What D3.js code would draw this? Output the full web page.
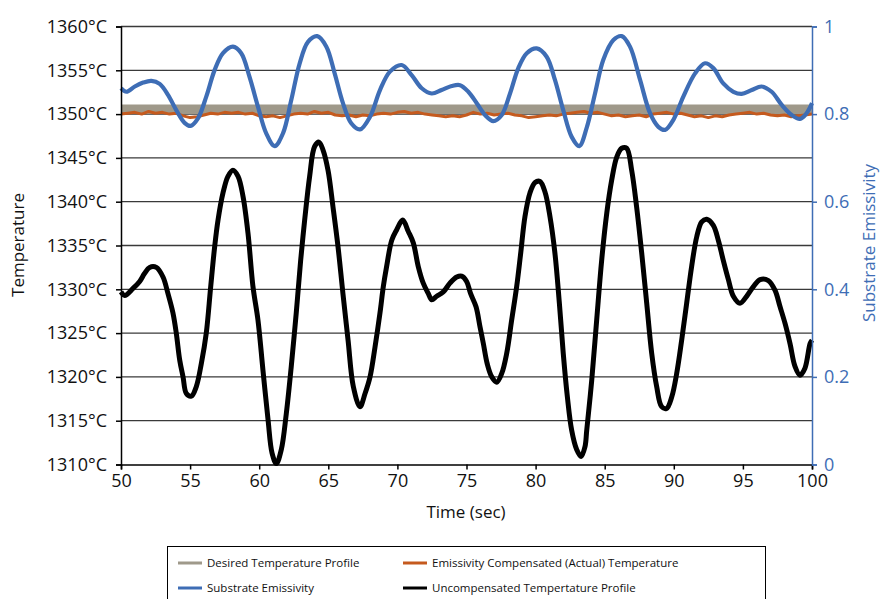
<!DOCTYPE html>
<html>
<head>
<meta charset="utf-8">
<script src="https://cdn.jsdelivr.net/npm/d3@7"></script>
<style>
  body { margin: 0; background: #fff; }
  svg { font-family: "Open Sans", "Noto Sans", sans-serif; }
  .grid line { stroke: #3a3a3a; stroke-width: 1.3; }
</style>
</head>
<body>
<svg width="881" height="599"></svg>
<script>
// axis ticks
const tempTicks = [1310, 1315, 1320, 1325, 1330, 1335, 1340, 1345, 1350, 1355, 1360];
const emisTicks = [0, 0.2, 0.4, 0.6, 0.8, 1];
const timeTicks = [50, 55, 60, 65, 70, 75, 80, 85, 90, 95, 100];

// desired temperature profile (flat setpoint band)
const desiredTime = [50, 100];
const desiredTemp = [1350.55, 1350.55];

// uncompensated temperature (black)
const uncompTime = [50.0, 50.27, 50.87, 51.35, 51.7, 52.07, 52.56, 53.04, 53.4, 53.76, 54.0, 54.25, 54.49, 54.73, 55.09, 55.45, 55.81, 56.17, 56.49, 56.78,
  57.02, 57.38, 57.74, 58.1, 58.47, 58.83, 59.19, 59.55, 59.91, 60.27, 60.64, 60.93, 61.24, 61.6, 61.96, 62.32, 62.68, 63.0, 63.29, 63.65,
  64.01, 64.33, 64.62, 64.98, 65.34, 65.7, 66.06, 66.43, 66.81, 67.29, 67.66, 68.02, 68.38, 68.74, 68.98, 69.22, 69.59, 69.95, 70.38, 70.79,
  71.15, 71.51, 71.87, 72.24, 72.48, 72.84, 73.32, 73.8, 74.29, 74.65, 75.01, 75.3, 75.69, 75.98, 76.22, 76.5, 76.83, 77.19, 77.55, 77.91,
  78.27, 78.63, 78.92, 79.23, 79.59, 79.96, 80.32, 80.68, 81.04, 81.4, 81.72, 82.0, 82.3, 82.61, 82.97, 83.29, 83.57, 83.7, 84.06, 84.42,
  84.78, 85.15, 85.51, 85.87, 86.23, 86.59, 86.95, 87.31, 87.68, 88.04, 88.4, 88.76, 89.12, 89.48, 89.85, 90.21, 90.57, 90.93, 91.29, 91.66,
  92.02, 92.38, 92.86, 93.22, 93.58, 93.95, 94.31, 94.79, 95.27, 95.76, 96.24, 96.84, 97.32, 97.69, 98.05, 98.41, 98.77, 99.13, 99.49, 99.86, 100];
const uncompTemp = [1329.7, 1329.3, 1330.1, 1330.9, 1331.8, 1332.5, 1332.5, 1331.4, 1329.5, 1327.3, 1325.0, 1321.9, 1320.0, 1318.1, 1317.8, 1318.9, 1321.5, 1325.0, 1330.3, 1334.9,
  1337.9, 1341.0, 1342.9, 1343.6, 1342.9, 1340.6, 1336.4, 1330.3, 1326.5, 1320.8, 1315.1, 1311.3, 1310.1, 1311.7, 1315.8, 1321.2, 1327.3, 1333.3, 1337.9, 1342.9,
  1346.3, 1346.8, 1345.9, 1343.6, 1339.4, 1334.9, 1329.5, 1324.2, 1318.9, 1316.6, 1318.1, 1320.0, 1323.4, 1327.3, 1330.3, 1332.6, 1335.6, 1336.8, 1337.9, 1336.6,
  1335.3, 1332.6, 1330.7, 1329.5, 1328.8, 1329.2, 1329.7, 1330.7, 1331.4, 1331.5, 1330.9, 1329.5, 1328.0, 1325.7, 1323.8, 1321.5, 1320.0, 1319.4, 1320.4, 1322.7,
  1326.5, 1330.3, 1334.1, 1338.3, 1341.0, 1342.2, 1342.3, 1341.1, 1338.3, 1334.1, 1328.4, 1322.7, 1317.7, 1313.9, 1311.7, 1310.9, 1312.0, 1313.9, 1319.6, 1326.5,
  1333.3, 1338.7, 1342.5, 1345.1, 1346.1, 1346.1, 1343.6, 1339.4, 1334.1, 1328.4, 1322.7, 1318.9, 1316.6, 1316.4, 1317.7, 1320.4, 1324.2, 1328.4, 1332.6, 1336.0,
  1337.7, 1338.0, 1337.3, 1335.6, 1333.3, 1331.1, 1329.2, 1328.4, 1329.2, 1330.3, 1331.1, 1331.0, 1329.9, 1328.0, 1326.1, 1323.8, 1321.2, 1320.2, 1321.0, 1323.8, 1324.2];

// substrate emissivity (blue, right axis)
const emisTime = [50.0, 50.39, 51.0, 51.6, 52.2, 52.8, 53.4, 54.0, 54.6, 55.04, 55.57, 56.17, 56.78, 57.38, 58.1, 58.7, 59.3, 59.91, 60.51, 61.12,
  61.72, 62.32, 62.93, 63.53, 64.2, 64.86, 65.46, 66.06, 66.66, 67.29, 68.02, 68.74, 69.46, 70.31, 71.03, 71.76, 72.48, 73.2, 73.93, 74.53,
  75.13, 75.74, 76.34, 76.94, 77.55, 78.15, 78.75, 79.36, 80.08, 80.8, 81.4, 82.0, 82.61, 83.16, 83.7, 84.3, 84.9, 85.63, 86.23, 86.83,
  87.56, 88.28, 88.88, 89.37, 89.97, 90.69, 91.54, 92.26, 92.86, 93.58, 94.31, 94.91, 95.64, 96.36, 97.08, 97.81, 98.53, 99.13, 99.61, 100];
const emisValue = [0.859, 0.851, 0.863, 0.872, 0.876, 0.869, 0.844, 0.809, 0.780, 0.773, 0.790, 0.840, 0.901, 0.939, 0.954, 0.939, 0.885, 0.817, 0.756, 0.727,
  0.756, 0.832, 0.916, 0.965, 0.978, 0.954, 0.893, 0.825, 0.779, 0.765, 0.794, 0.855, 0.897, 0.912, 0.889, 0.859, 0.847, 0.855, 0.864, 0.866,
  0.851, 0.825, 0.798, 0.784, 0.798, 0.847, 0.905, 0.939, 0.950, 0.931, 0.878, 0.809, 0.748, 0.727, 0.769, 0.847, 0.924, 0.969, 0.978, 0.954,
  0.878, 0.802, 0.771, 0.764, 0.787, 0.840, 0.893, 0.916, 0.905, 0.870, 0.851, 0.846, 0.855, 0.863, 0.851, 0.821, 0.798, 0.789, 0.802, 0.825];

// emissivity compensated (actual) temperature (orange)
const actualTime = [50, 50.5, 51, 51.5, 52, 52.5, 53, 53.5, 54, 54.5, 55, 55.5, 56, 56.5, 57, 57.5, 58, 58.5, 59, 59.5,
  60, 60.5, 61, 61.5, 62, 62.5, 63, 63.5, 64, 64.5, 65, 65.5, 66, 66.5, 67, 67.5, 68, 68.5, 69, 69.5,
  70, 70.5, 71, 71.5, 72, 72.5, 73, 73.5, 74, 74.5, 75, 75.5, 76, 76.5, 77, 77.5, 78, 78.5, 79, 79.5,
  80, 80.5, 81, 81.5, 82, 82.5, 83, 83.5, 84, 84.5, 85, 85.5, 86, 86.5, 87, 87.5, 88, 88.5, 89, 89.5,
  90, 90.5, 91, 91.5, 92, 92.5, 93, 93.5, 94, 94.5, 95, 95.5, 96, 96.5, 97, 97.5, 98, 98.5, 99, 99.5, 100];
const actualTemp = [1350.0, 1350.1, 1350.2, 1350.0, 1350.3, 1350.1, 1350.2, 1350.0, 1350.1, 1349.8, 1349.6, 1349.7, 1349.9, 1350.1, 1350.0, 1350.2, 1350.1, 1350.2, 1350.0, 1350.1,
  1349.8, 1349.7, 1349.8, 1349.6, 1349.8, 1350.0, 1350.1, 1350.0, 1350.3, 1350.1, 1350.2, 1349.9, 1349.8, 1349.9, 1349.7, 1349.9, 1349.8, 1350.0, 1350.1, 1350.0,
  1350.2, 1350.3, 1350.1, 1350.2, 1350.0, 1349.9, 1349.8, 1349.7, 1349.8, 1349.7, 1349.9, 1350.2, 1350.0, 1350.1, 1349.9, 1350.0, 1350.1, 1349.9, 1349.8, 1349.6,
  1349.7, 1349.8, 1349.9, 1349.8, 1350.0, 1350.1, 1350.2, 1350.3, 1350.1, 1350.2, 1350.0, 1349.8, 1349.9, 1349.7, 1349.8, 1349.9, 1349.7, 1350.0, 1350.1, 1350.2,
  1350.0, 1350.1, 1349.9, 1349.7, 1349.8, 1349.6, 1349.8, 1349.7, 1349.9, 1350.0, 1350.1, 1350.2, 1350.0, 1350.1, 1349.9, 1349.8, 1349.9, 1349.7, 1349.8, 1349.9, 1350.0];

const colors = {
  desired: "#9f998a",
  actual:  "#c55a1e",
  emis:    "#3e6db5",
  uncomp:  "#000000"
};

const svg = d3.select("svg");
const margin = {left: 121, right: 812, top: 26.5, bottom: 464.5};

const x  = d3.scaleLinear().domain([50, 100]).range([margin.left, margin.right]);
const yT = d3.scaleLinear().domain([1310, 1360]).range([margin.bottom, margin.top]);
const yE = d3.scaleLinear().domain([0, 1]).range([margin.bottom, margin.top]);

// gridlines
svg.append("g")
  .attr("class", "grid")
  .selectAll("line")
  .data(tempTicks.slice(1))
  .enter()
  .append("line")
  .attr("x1", margin.left)
  .attr("x2", margin.right)
  .attr("y1", d => yT(d))
  .attr("y2", d => yT(d));

const zip = (xs, ys) => xs.map((t, i) => [t, ys[i]]);

const lineT = d3.line().x(d => x(d[0])).y(d => yT(d[1]));
const lineE = d3.line().x(d => x(d[0])).y(d => yE(d[1])).curve(d3.curveCatmullRom);

svg.append("path")
  .datum(zip(desiredTime, desiredTemp))
  .attr("d", lineT)
  .attr("fill", "none")
  .attr("stroke", colors.desired)
  .attr("stroke-width", 9.5);

svg.append("path")
  .datum(zip(actualTime, actualTemp))
  .attr("d", lineT)
  .attr("fill", "none")
  .attr("stroke", colors.actual)
  .attr("stroke-width", 3)
  .attr("stroke-linejoin", "round");

svg.append("path")
  .datum(zip(emisTime, emisValue))
  .attr("d", lineE)
  .attr("fill", "none")
  .attr("stroke", colors.emis)
  .attr("stroke-width", 4.2);

svg.append("path")
  .datum(zip(uncompTime, uncompTemp))
  .attr("d", lineT.curve(d3.curveCatmullRom))
  .attr("fill", "none")
  .attr("stroke", colors.uncomp)
  .attr("stroke-width", 5)
  .attr("stroke-linejoin", "round");

// left axis
const axisL = svg.append("g")
  .attr("transform", `translate(${margin.left},0)`)
  .call(d3.axisLeft(yT).tickValues(tempTicks).tickSize(5).tickPadding(9).tickFormat(d => d + "°C"));
axisL.select(".domain").attr("stroke", "#000").attr("stroke-width", 1.5);
axisL.selectAll(".tick line").attr("stroke", "#000").attr("stroke-width", 1.5);
axisL.selectAll("text").attr("font-size", 18).attr("fill", "#111").attr("font-family", "Open Sans");

// bottom axis
const axisB = svg.append("g")
  .attr("transform", `translate(0,${margin.bottom})`)
  .call(d3.axisBottom(x).tickValues(timeTicks).tickSize(5).tickPadding(5));
axisB.select(".domain").attr("stroke", "#000").attr("stroke-width", 1.5);
axisB.selectAll(".tick line").attr("stroke", "#000").attr("stroke-width", 1.5);
axisB.selectAll("text").attr("font-size", 18).attr("fill", "#111").attr("font-family", "Open Sans");

// right axis
const axisR = svg.append("g")
  .attr("transform", `translate(${margin.right},0)`)
  .call(d3.axisRight(yE).tickValues(emisTicks).tickSize(5).tickPadding(7).tickFormat(d3.format("")));
axisR.select(".domain").attr("stroke", colors.emis).attr("stroke-width", 1.5);
axisR.selectAll(".tick line").attr("stroke", colors.emis).attr("stroke-width", 1.5);
axisR.selectAll("text").attr("font-size", 18).attr("fill", colors.emis).attr("font-family", "Open Sans");

// axis titles
svg.append("text")
  .attr("transform", "translate(24,245) rotate(-90)")
  .attr("text-anchor", "middle")
  .attr("font-size", 17)
  .attr("fill", "#111")
  .text("Temperature");

svg.append("text")
  .attr("transform", "translate(875,243) rotate(-90)")
  .attr("text-anchor", "middle")
  .attr("font-size", 17)
  .attr("fill", colors.emis)
  .text("Substrate Emissivity");

svg.append("text")
  .attr("x", 466)
  .attr("y", 518)
  .attr("text-anchor", "middle")
  .attr("font-size", 17)
  .attr("fill", "#111")
  .text("Time (sec)");

// legend
const legendItems = [
  {label: "Desired Temperature Profile", color: colors.desired, col: 0, row: 0},
  {label: "Emissivity Compensated (Actual) Temperature", color: colors.actual, col: 1, row: 0},
  {label: "Substrate Emissivity", color: colors.emis, col: 0, row: 1},
  {label: "Uncompensated Tempertature Profile", color: colors.uncomp, col: 1, row: 1}
];

const legend = svg.append("g");
legend.append("rect")
  .attr("x", 167.5)
  .attr("y", 546.5)
  .attr("width", 598)
  .attr("height", 80)
  .attr("fill", "#fff")
  .attr("stroke", "#000")
  .attr("stroke-width", 1);

const entry = legend.selectAll("g.entry")
  .data(legendItems)
  .enter()
  .append("g")
  .attr("class", "entry")
  .attr("transform", d => `translate(${d.col ? 403 : 178},${d.row ? 588 : 563})`);

entry.append("line")
  .attr("x1", 0)
  .attr("x2", 24)
  .attr("stroke", d => d.color)
  .attr("stroke-width", 3);

entry.append("text")
  .attr("x", 29)
  .attr("dy", "0.35em")
  .attr("font-size", 11.5)
  .attr("fill", "#111")
  .text(d => d.label);
</script>
</body>
</html>
